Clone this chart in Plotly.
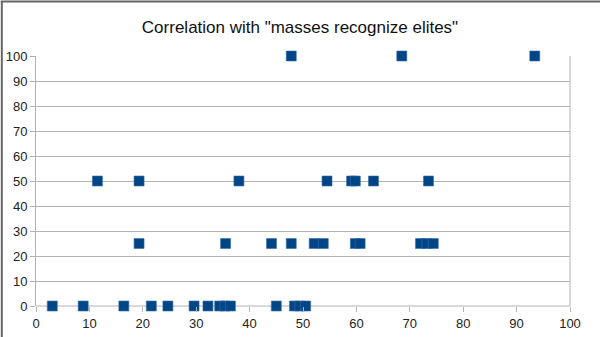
import plotly.graph_objects as go

# Data (x = score, y = "masses recognize elites")
x_0 = [3.05, 8.84, 16.45, 21.6, 24.7, 29.6, 32.2, 34.4, 35.4, 36.4, 45.0, 48.4, 49.4, 50.5]
x_25 = [19.3, 35.5, 44.1, 47.8, 52.1, 53.8, 59.8, 60.7, 72.0, 73.2, 74.4]
x_50 = [11.5, 19.3, 38.0, 54.5, 59.1, 59.8, 63.2, 73.5]
x_100 = [47.8, 68.5, 93.4]

xs = x_0 + x_25 + x_50 + x_100
ys = [0] * len(x_0) + [25] * len(x_25) + [50] * len(x_50) + [100] * len(x_100)

title_text = 'Correlation with "masses recognize elites"'
x_ticks = list(range(0, 101, 10))
y_ticks = list(range(0, 101, 10))

fig = go.Figure()
fig.add_trace(go.Scatter(
    x=xs, y=ys, mode="markers",
    marker=dict(symbol="square", size=10, color="#004586",
                line=dict(width=0.6, color="#3b6fa8")),
    cliponaxis=False, showlegend=False,
))

fig.update_layout(
    width=600, height=337,
    margin=dict(l=36, r=30, t=56, b=31, autoexpand=False),
    paper_bgcolor="white", plot_bgcolor="white",
    font=dict(family="Liberation Sans, Arial, sans-serif", size=13, color="#222222"),
    title=dict(text=title_text, x=0.5, xanchor="center", y=0.92, yanchor="middle",
               font=dict(size=17, color="#111111")),
    xaxis=dict(range=[0, 100], tickvals=x_ticks, showgrid=False, zeroline=False,
               showline=False, ticks="outside", ticklen=5, tickcolor="#b3b3b3",
               tickfont=dict(size=13), automargin=False),
    yaxis=dict(range=[0, 100], tickvals=y_ticks, showgrid=True, gridcolor="#b3b3b3",
               gridwidth=1, zeroline=False, showline=True, linecolor="#b3b3b3",
               ticks="outside", ticklen=5, tickcolor="#b3b3b3",
               tickfont=dict(size=13), automargin=False),
    shapes=[
        # plot area right border
        dict(type="line", xref="paper", yref="paper", x0=1, x1=1, y0=0, y1=1,
             line=dict(color="#b3b3b3", width=1), layer="below"),
        # x axis line at y=0
        dict(type="line", xref="paper", yref="paper", x0=0, x1=1, y0=0, y1=0,
             line=dict(color="#b3b3b3", width=1), layer="below"),
        # outer frame (left & top edges of the image)
        dict(type="line", xref="paper", yref="paper", x0=-0.064, x1=-0.064, y0=-0.13, y1=1.22,
             line=dict(color="#666666", width=2)),
        dict(type="line", xref="paper", yref="paper", x0=-0.066, x1=1.07, y0=1.218, y1=1.218,
             line=dict(color="#666666", width=2)),
    ],
)

fig.write_html("out.html")
